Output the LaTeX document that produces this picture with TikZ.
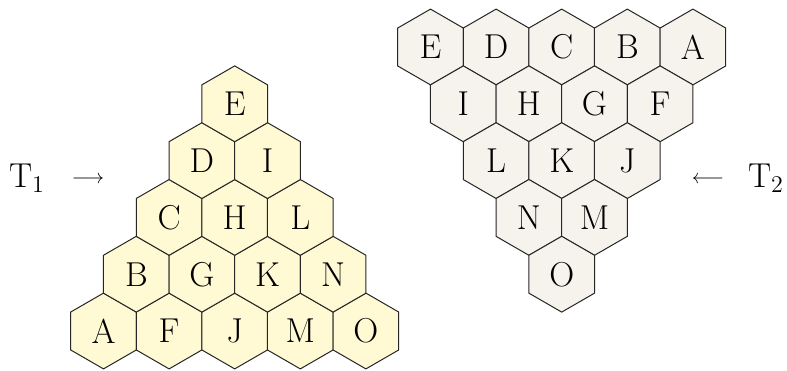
\documentclass[tikz,border=0pt]{standalone}
\usetikzlibrary{shapes.geometric}
\definecolor{hexyellow}{RGB}{255,249,212}
\definecolor{hexgray}{RGB}{246,242,236}
\begin{document}
\begin{tikzpicture}[x=0.5pt,y=0.5pt,
	hex/.style={regular polygon,regular polygon sides=6,shape border rotate=30,
		minimum size=37.9pt,inner sep=0pt,draw=black!85,line width=0.5pt},
	hexL/.style={hex,fill=hexyellow},
	hexR/.style={hex,fill=hexgray}]
	\tikzstyle{every node}=[font=\LARGE]
	\useasboundingbox (0,0) rectangle (787,370);
	% T1, built up from the bottom row
	\foreach \row/\names in {0/{A,F,J,M,O},1/{B,G,K,N},2/{C,H,L},3/{D,I},4/{E}} {
		\foreach \lbl [count=\i from 0] in \names {
			\node [hexL] (l\lbl) at ({103.5+65.6*(\i+\row/2)},{39+56.8*\row}) {\lbl};
		}
	}
	% T2, built down from the top row
	\foreach \row/\names in {0/{E,D,C,B,A},1/{I,H,G,F},2/{L,K,J},3/{N,M},4/{O}} {
		\foreach \lbl [count=\i from 0] in \names {
			\node [hexR] (r\lbl) at ({430.5+65.6*(\i+\row/2)},{323-56.8*\row}) {\lbl};
		}
	}
	\node [anchor=base] (t1) at (27,183) {$\mathrm{T}_1$};
	\node [font=\normalsize] (arrowL) at (88,190) {$\longrightarrow$};
	\node [font=\normalsize] (arrowR) at (708,190) {$\longleftarrow$};
	\node [anchor=base] (t2) at (766,183) {$\mathrm{T}_2$};
\end{tikzpicture}
\end{document}
